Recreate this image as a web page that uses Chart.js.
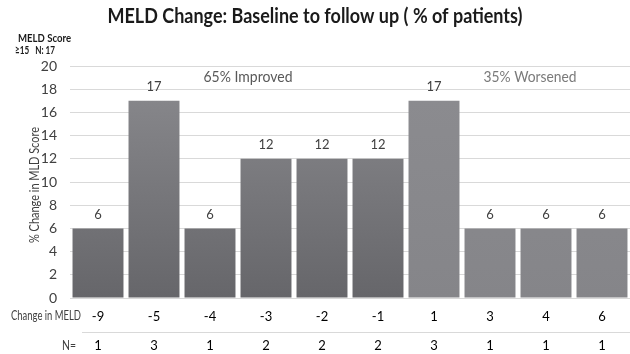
<!DOCTYPE html>
<html>
<head>
<meta charset="utf-8">
<script src="https://cdn.jsdelivr.net/npm/chart.js@4"></script>
<style>
  html, body { margin: 0; padding: 0; background: #fff; }
  #wrap { width: 630px; height: 354px; position: relative; }
</style>
</head>
<body>
<div id="wrap"><canvas id="c" width="630" height="354"></canvas></div>
<script>
// MELD change categories (x axis) and share of patients in each (%)
const meldChange = ['-9', '-5', '-4', '-3', '-2', '-1', '1', '3', '4', '6'];
const pctPatients = [6, 17, 6, 12, 12, 12, 17, 6, 6, 6];
const patientCounts = [1, 3, 1, 2, 2, 2, 3, 1, 1, 1];
const yTicks = [0, 2, 4, 6, 8, 10, 12, 14, 16, 18, 20];

const FONT = 'Lato, "Open Sans", sans-serif';

function barFill(ctx) {
  const chart = ctx.chart;
  const area = chart.chartArea;
  const improved = Number(meldChange[ctx.dataIndex]) < 0;
  if (!area) return improved ? '#7a7a7e' : '#89898d';
  const g = chart.ctx.createLinearGradient(0, area.top, 0, area.bottom);
  if (improved) {
    g.addColorStop(0, '#8b8b8f');
    g.addColorStop(1, '#66666a');
  } else {
    g.addColorStop(0, '#8c8c90');
    g.addColorStop(1, '#858589');
  }
  return g;
}

// Draw text squeezed or stretched horizontally to a given width
function fitText(ctx, text, x, y, width) {
  const w = ctx.measureText(text).width;
  const s = width / w;
  ctx.save();
  ctx.translate(x, y);
  ctx.scale(s, 1);
  ctx.fillText(text, 0, 0);
  ctx.restore();
}

// Extra text: title, corner note, bar values, group notes, N= row
const annotations = {
  id: 'annotations',
  afterDatasetsDraw(chart) {
    const ctx = chart.ctx;
    const x = chart.scales.x;
    const area = chart.chartArea;
    ctx.save();

    ctx.fillStyle = '#1a1a1a';
    ctx.textAlign = 'center';
    ctx.textBaseline = 'middle';
    ctx.font = 'bold 20px ' + FONT;
    fitText(ctx, 'MELD Change: Baseline to follow up ( % of patients)', 315, 17, 415);

    ctx.font = 'bold 11px ' + FONT;
    ctx.textAlign = 'left';
    fitText(ctx, 'MELD Score', 18, 38, 53);
    fitText(ctx, '\u226515   N: 17', 15, 50, 40);

    // y axis title
    ctx.save();
    ctx.translate(34, 185);
    ctx.rotate(-Math.PI / 2);
    ctx.textAlign = 'center';
    ctx.font = '14px ' + FONT;
    ctx.fillStyle = '#404040';
    fitText(ctx, '% Change in MLD Score', 0, 0, 116);
    ctx.restore();

    // value labels above bars
    const meta = chart.getDatasetMeta(0);
    ctx.font = '13px ' + FONT;
    ctx.fillStyle = '#404040';
    ctx.textAlign = 'center';
    meta.data.forEach((bar, i) => {
      ctx.fillText(String(pctPatients[i]), bar.x, bar.y - 14);
    });

    // group notes
    ctx.font = '15px ' + FONT;
    ctx.fillStyle = '#595959';
    fitText(ctx, '65% Improved', 248, 77, 89);
    ctx.fillStyle = '#7a7a7a';
    fitText(ctx, '35% Worsened', 530, 77, 93);

    // row captions
    ctx.font = '13px ' + FONT;
    ctx.fillStyle = '#404040';
    ctx.textAlign = 'left';
    fitText(ctx, 'Change in MELD', 11, 316, 70);
    fitText(ctx, 'N=', 62, 346, 14);

    // separator between rows
    ctx.strokeStyle = '#d9d9d9';
    ctx.lineWidth = 1;
    ctx.beginPath();
    ctx.moveTo(82, 332.5);
    ctx.lineTo(area.right, 332.5);
    ctx.stroke();

    // patient counts
    ctx.font = '13px ' + FONT;
    ctx.fillStyle = '#000';
    ctx.textAlign = 'center';
    patientCounts.forEach((n, i) => {
      ctx.fillText(String(n), x.getPixelForValue(i), 346);
    });

    ctx.restore();
  }
};

new Chart(document.getElementById('c'), {
  type: 'bar',
  data: {
    labels: meldChange,
    datasets: [{
      data: pctPatients,
      backgroundColor: barFill,
      borderWidth: 0,
      barPercentage: 0.91,
      categoryPercentage: 1.0
    }]
  },
  options: {
    responsive: false,
    animation: false,
    devicePixelRatio: 1,
    layout: { padding: { top: 66, right: 0, bottom: 0, left: 0 } },
    plugins: {
      legend: { display: false },
      tooltip: { enabled: false }
    },
    scales: {
      x: {
        grid: { display: false, drawTicks: false },
        border: { display: true, color: '#d9d9d9' },
        ticks: {
          color: '#000',
          font: { family: FONT, size: 13 },
          padding: 11
        },
        afterFit(scale) { scale.height = 56; }
      },
      y: {
        min: 0,
        max: 20,
        afterBuildTicks(scale) { scale.ticks = yTicks.map(v => ({ value: v })); },
        grid: { color: '#d9d9d9', drawTicks: false },
        border: { display: false },
        ticks: {
          color: '#404040',
          font: { family: FONT, size: 14 },
          padding: 13
        },
        afterFit(scale) { scale.width = 70; }
      }
    }
  },
  plugins: [annotations]
});
</script>
</body>
</html>
